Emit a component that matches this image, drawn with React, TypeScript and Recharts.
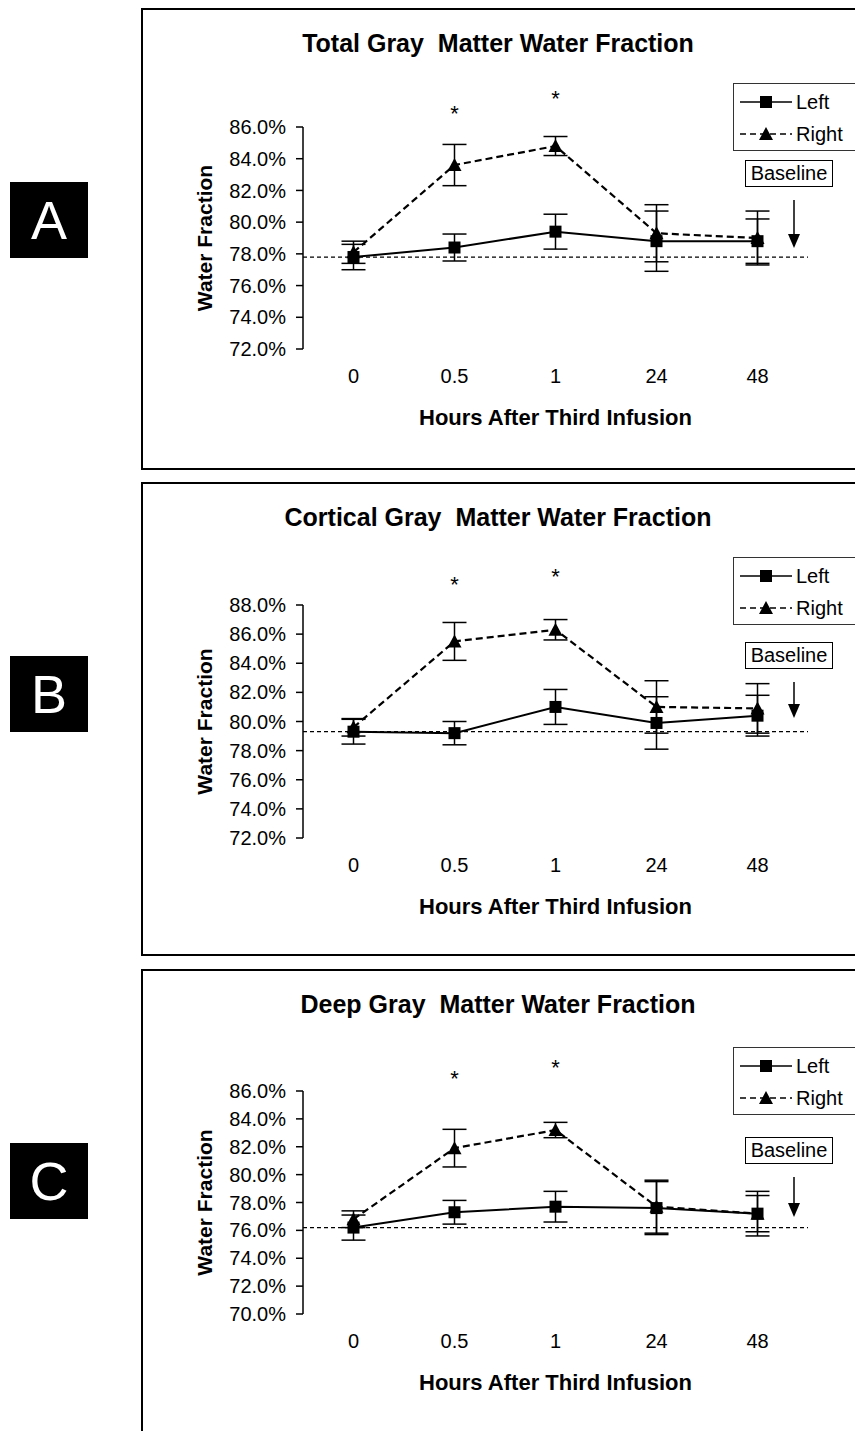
import React from 'react';
import { ComposedChart, Line, XAxis, YAxis, ErrorBar, ReferenceLine, ReferenceDot } from 'recharts';

const HOURS = ['0', '0.5', '1', '24', '48'];
const FRAME_TICKS = [0, 1, 2, 3, 4, 5];
const CAT_TICKS = [0.5, 1.5, 2.5, 3.5, 4.5];

// A: total gray matter
const A_LEFT = [77.8, 78.4, 79.4, 78.8, 78.8];
const A_LEFT_ERR = [0.8, 0.85, 1.1, 1.9, 1.4];
const A_RIGHT = [78.1, 83.6, 84.8, 79.3, 79.0];
const A_RIGHT_ERR = [0.7, 1.3, 0.6, 1.8, 1.7];
const A_BASE = 77.8;
const A_TICKS = [72, 74, 76, 78, 80, 82, 84, 86];
const A_STARS = [{ hour: '0.5', y: 86.9 }, { hour: '1', y: 87.8 }];

// B: cortical gray matter
const B_LEFT = [79.3, 79.2, 81.0, 79.9, 80.4];
const B_LEFT_ERR = [0.85, 0.8, 1.2, 1.8, 1.4];
const B_RIGHT = [79.6, 85.5, 86.3, 81.0, 80.9];
const B_RIGHT_ERR = [0.6, 1.3, 0.7, 1.8, 1.7];
const B_BASE = 79.3;
const B_TICKS = [72, 74, 76, 78, 80, 82, 84, 86, 88];
const B_STARS = [{ hour: '0.5', y: 89.4 }, { hour: '1', y: 90.0 }];

// C: deep gray matter
const C_LEFT = [76.2, 77.3, 77.7, 77.6, 77.2];
const C_LEFT_ERR = [0.9, 0.85, 1.1, 1.9, 1.6];
const C_RIGHT = [76.8, 81.9, 83.2, 77.7, 77.2];
const C_RIGHT_ERR = [0.6, 1.35, 0.55, 1.9, 1.3];
const C_BASE = 76.2;
const C_TICKS = [70, 72, 74, 76, 78, 80, 82, 84, 86];
const C_STARS = [{ hour: '0.5', y: 86.9 }, { hour: '1', y: 87.7 }];

const FONT = '"Liberation Sans", Arial, sans-serif';
const W = 714;
const PLOT_LEFT = 162;
const PLOT_RIGHT = 47;

const panels = [
  {
    tag: 'A', title: 'Total Gray  Matter Water Fraction', top: 8, height: 462, bottomBorder: true,
    plotTop: 119, plotH: 222, left: A_LEFT, leftErr: A_LEFT_ERR, right: A_RIGHT, rightErr: A_RIGHT_ERR,
    base: A_BASE, ticks: A_TICKS, stars: A_STARS, legendTop: 75, boxTop: 152, arrowEnd: 240,
  },
  {
    tag: 'B', title: 'Cortical Gray  Matter Water Fraction', top: 482, height: 474, bottomBorder: true,
    plotTop: 123, plotH: 233, left: B_LEFT, leftErr: B_LEFT_ERR, right: B_RIGHT, rightErr: B_RIGHT_ERR,
    base: B_BASE, ticks: B_TICKS, stars: B_STARS, legendTop: 75, boxTop: 160, arrowEnd: 236,
  },
  {
    tag: 'C', title: 'Deep Gray  Matter Water Fraction', top: 969, height: 462, bottomBorder: false,
    plotTop: 122, plotH: 223, left: C_LEFT, leftErr: C_LEFT_ERR, right: C_RIGHT, rightErr: C_RIGHT_ERR,
    base: C_BASE, ticks: C_TICKS, stars: C_STARS, legendTop: 78, boxTop: 168, arrowEnd: 248,
  },
];

const Square = (p: any) =>
  p.cx == null ? null : <rect key={p.index} x={p.cx - 6} y={p.cy - 6} width={12} height={12} fill="#000" />;

const Tri = (p: any) =>
  p.cx == null ? null : (
    <polygon key={p.index} points={`${p.cx},${p.cy - 7} ${p.cx - 7},${p.cy + 6} ${p.cx + 7},${p.cy + 6}`} fill="#000" />
  );

function LegendBox({ top }: { top: number }) {
  const row = (dashed: boolean, label: string) => (
    <div style={{ display: 'flex', alignItems: 'center', height: 32 }}>
      <svg width={56} height={16} style={{ marginLeft: 4 }}>
        <line x1={2} y1={8} x2={54} y2={8} stroke="#000" strokeWidth={1.5} strokeDasharray={dashed ? '6 4' : undefined} />
        {dashed ? (
          <polygon points="28,1 21,14 35,14" fill="#000" />
        ) : (
          <rect x={22} y={2} width={12} height={12} fill="#000" />
        )}
      </svg>
      <span style={{ marginLeft: 2 }}>{label}</span>
    </div>
  );
  return (
    <div
      style={{
        position: 'absolute', left: 592, top, width: 140, height: 68, border: '1px solid #333',
        fontFamily: FONT, fontSize: 20, boxSizing: 'border-box', paddingTop: 2,
      }}
    >
      {row(false, 'Left')}
      {row(true, 'Right')}
    </div>
  );
}

function Panel({ cfg }: { cfg: any }) {
  const data = HOURS.map((h, i) => ({
    x: i + 0.5, hour: h, left: cfg.left[i], leftErr: cfg.leftErr[i], right: cfg.right[i], rightErr: cfg.rightErr[i],
  }));
  const lo = cfg.ticks[0];
  const hi = cfg.ticks[cfg.ticks.length - 1];
  const bottom = cfg.height - cfg.plotTop - cfg.plotH;
  const plotBottom = cfg.plotTop + cfg.plotH;
  return (
    <>
      <div style={{ position: 'absolute', left: 10, top: cfg.top + 174, width: 78, height: 76, background: '#000',
        color: '#fff', fontFamily: FONT, fontSize: 54, display: 'flex', alignItems: 'center', justifyContent: 'center' }}>
        {cfg.tag}
      </div>
      <div style={{ position: 'absolute', left: 141, top: cfg.top, width: W, height: cfg.height }}>
        <div style={{ position: 'absolute', left: 0, top: 0, width: 2, height: cfg.height, background: '#000' }} />
        <div style={{ position: 'absolute', left: 0, top: 0, width: W, height: 2, background: '#000' }} />
        {cfg.bottomBorder && (
          <div style={{ position: 'absolute', left: 0, top: cfg.height - 2, width: W, height: 2, background: '#000' }} />
        )}
        <div style={{ position: 'absolute', left: 0, top: 21, width: W, textAlign: 'center',
          fontFamily: FONT, fontWeight: 'bold', fontSize: 25, whiteSpace: 'pre' }}>
          {cfg.title}
        </div>
        <ComposedChart width={W} height={cfg.height} data={data}
          margin={{ top: cfg.plotTop, right: PLOT_RIGHT, bottom: 0, left: 0 }} style={{ position: 'absolute', left: 0, top: 0 }}>
          <XAxis xAxisId="frame" type="number" dataKey="x" domain={[0, 5]} ticks={FRAME_TICKS} tick={false}
            height={0} stroke="#000" strokeWidth={1.5} tickSize={7} />
          <XAxis xAxisId="cat" type="number" dataKey="x" domain={[0, 5]} ticks={CAT_TICKS} axisLine={false} tickLine={false}
            tickFormatter={(v: number) => HOURS[Math.floor(v)]} tickMargin={14} height={bottom}
            tick={{ fill: '#000', fontSize: 20, fontFamily: FONT }}
            label={{ content: () => (
              <text x={PLOT_LEFT + (W - PLOT_LEFT - PLOT_RIGHT) / 2} y={plotBottom + 76} textAnchor="middle"
                fontFamily={FONT} fontWeight="bold" fontSize={22}>Hours After Third Infusion</text>
            ) }} />
          <YAxis type="number" domain={[lo, hi]} ticks={cfg.ticks} width={PLOT_LEFT} stroke="#000" strokeWidth={1.5}
            tickSize={7} tickMargin={10} interval={0}
            tickFormatter={(v: number) => `${v.toFixed(1)}%`} tick={{ fill: '#000', fontSize: 20, fontFamily: FONT }}
            label={{ content: () => (
              <text x={0} y={0} transform={`translate(71, ${cfg.plotTop + cfg.plotH / 2}) rotate(-90)`} textAnchor="middle"
                fontFamily={FONT} fontWeight="bold" fontSize={21}>Water Fraction</text>
            ) }} />
          <ReferenceLine xAxisId="cat" y={cfg.base} stroke="#000" strokeWidth={1.2} strokeDasharray="4 3" />
          <Line xAxisId="cat" dataKey="right" stroke="#000" strokeWidth={2.2} strokeDasharray="7 4" dot={Tri}
            isAnimationActive={false}>
            <ErrorBar dataKey="rightErr" direction="y" width={12} stroke="#000" strokeWidth={1.5} />
          </Line>
          <Line xAxisId="cat" dataKey="left" stroke="#000" strokeWidth={2} dot={Square} isAnimationActive={false}>
            <ErrorBar dataKey="leftErr" direction="y" width={12} stroke="#000" strokeWidth={1.5} />
          </Line>
          {cfg.stars.map((s: any) => (
            <ReferenceDot key={s.hour} xAxisId="cat" x={HOURS.indexOf(s.hour) + 0.5} y={s.y} r={0} fill="none" stroke="none"
              ifOverflow="visible"
              label={{ value: '*', position: 'center', fill: '#000', fontSize: 22, fontFamily: FONT }} />
          ))}
        </ComposedChart>
        <LegendBox top={cfg.legendTop} />
        <div style={{ position: 'absolute', left: 604, top: cfg.boxTop, width: 88, height: 27, border: '1.5px solid #000',
          boxSizing: 'border-box', fontFamily: FONT, fontSize: 20, textAlign: 'center', lineHeight: '24px' }}>
          Baseline
        </div>
        <svg style={{ position: 'absolute', left: 645, top: cfg.boxTop + 40 }} width={16} height={cfg.arrowEnd - cfg.boxTop - 40}>
          <line x1={8} y1={0} x2={8} y2={cfg.arrowEnd - cfg.boxTop - 52} stroke="#000" strokeWidth={1.5} />
          <polygon points={`2,${cfg.arrowEnd - cfg.boxTop - 54} 14,${cfg.arrowEnd - cfg.boxTop - 54} 8,${cfg.arrowEnd - cfg.boxTop - 40}`} fill="#000" />
        </svg>
      </div>
    </>
  );
}

export default function App() {
  return (
    <div style={{ position: 'absolute', left: 0, top: 0, width: 855, height: 1431, background: '#fff', overflow: 'hidden' }}>
      {panels.map((p) => (
        <Panel key={p.tag} cfg={p} />
      ))}
    </div>
  );
}
